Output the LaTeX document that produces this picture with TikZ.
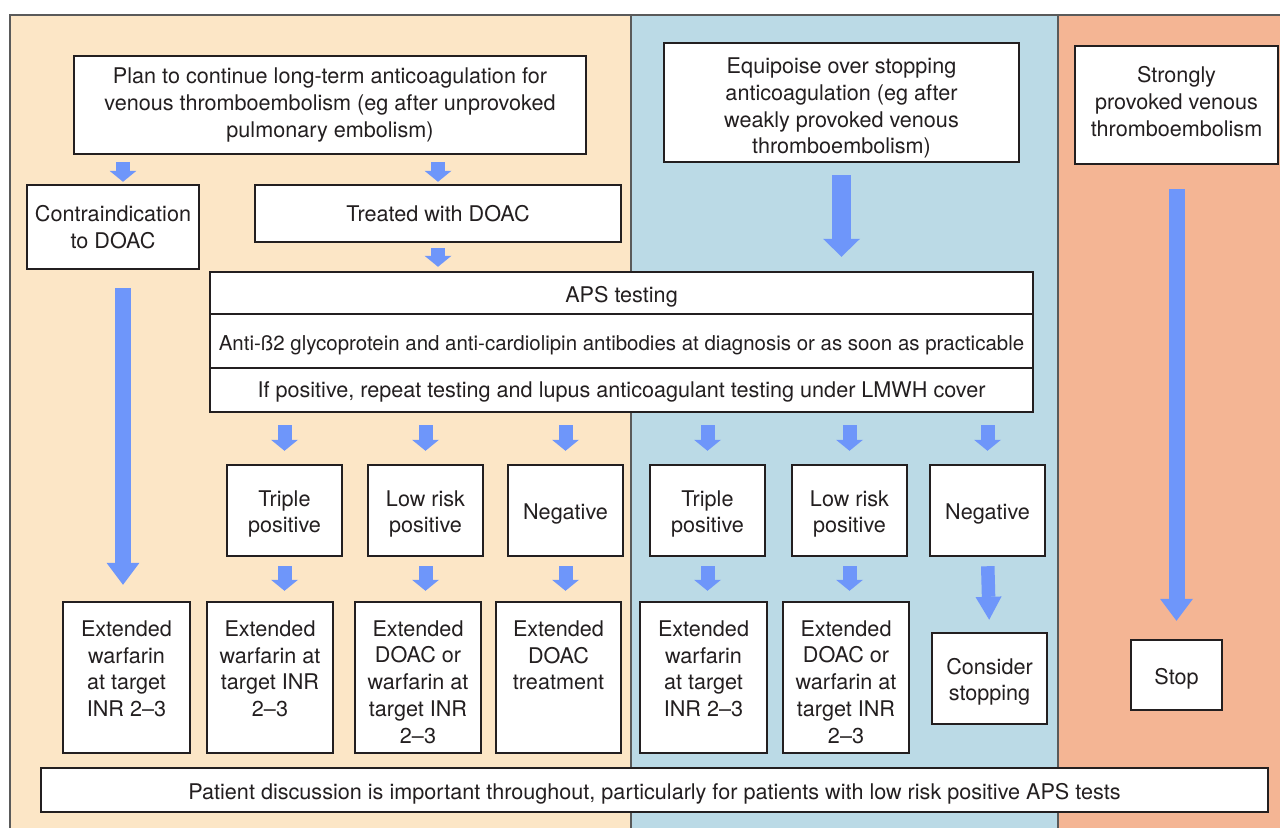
\documentclass[tikz,border=0pt]{standalone}
\usepackage{fontspec}
\setmainfont{TeX Gyre Heros}
\usetikzlibrary{arrows.meta}
\definecolor{peach}{RGB}{252,230,198}
\definecolor{paleblue}{RGB}{187,218,230}
\definecolor{salmon}{RGB}{244,181,148}
\definecolor{arrowblue}{RGB}{110,150,250}
\definecolor{ink}{RGB}{35,31,32}
\definecolor{rulegray}{RGB}{90,90,90}
% pushes the first line of a box down a little
\newcommand{\lift}[1][13pt]{\rule{0pt}{#1}}

\begin{document}
\begin{tikzpicture}[x=0.02cm, y=-0.02cm,
    box/.style={draw=ink, line width=1.4pt, fill=white, text=ink, align=center,
      inner sep=0pt, font=\fontsize{12.3}{15.2}\selectfont},
    smallarr/.style={arrowblue, line width=0.28cm,
      -{Triangle[length=0.22cm, width=0.54cm, line width=0pt]}},
    midarr/.style={arrowblue, line width=0.27cm,
      -{Triangle[length=0.46cm, width=0.52cm, line width=0pt]}},
    longarr/.style={arrowblue, line width=0.32cm,
      -{Triangle[length=0.44cm, width=0.66cm, line width=0pt]}},
    bigarr/.style={arrowblue, line width=0.38cm,
      -{Triangle[length=0.36cm, width=0.74cm, line width=0pt]}}]
        \useasboundingbox (0,0) rectangle (1280,828);
        % panels
        \fill[peach] (10,15) rectangle (631,828);
        \fill[paleblue] (631,15) rectangle (1058,828);
        \fill[salmon] (1058,15) rectangle (1280,828);
        \draw[rulegray, line width=0.8pt] (10,828) -- (10,15) -- (1280,15);
        \draw[rulegray, line width=0.8pt] (631,15) -- (631,828) (1058,15) -- (1058,828);
        % top boxes
        \node[box, minimum width=10.24cm, minimum height=1.96cm] (plan) at (330,105)
            {Plan to continue long-term anticoagulation for\\venous thromboembolism (eg after unprovoked\\pulmonary embolism)};
        \node[box, minimum width=7.1cm, minimum height=2.38cm] (equi) at (841.5,102.5)
            {\lift[15.5pt]Equipoise over stopping\\anticoagulation (eg after\\weakly provoked venous\\thromboembolism)};
        \node[box, minimum width=4.06cm, minimum height=2.36cm] (strong) at (1176.5,105)
            {Strongly\\provoked venous\\thromboembolism\rule[-4pt]{0pt}{0pt}};
        \node[box, minimum width=3.44cm, minimum height=1.68cm] (contra) at (113,227)
            {Contraindication\\to DOAC};
        \node[box, minimum width=7.32cm, minimum height=1.14cm] (treated) at (438,213.5)
            {Treated with DOAC};
        % APS testing
        \node[box, minimum width=16.46cm, minimum height=0.84cm] (aps1) at (621.5,293) {\lift APS testing};
        \node[box, minimum width=16.46cm, minimum height=1.08cm, font=\fontsize{11.65}{14.4}\selectfont] (aps2) at (621.5,341)
            {\lift Anti-ß2 glycoprotein and anti-cardiolipin antibodies at diagnosis or as soon as practicable};
        \node[box, minimum width=16.46cm, minimum height=0.88cm] (aps3) at (621.5,390)
            {\lift[11pt]If positive, repeat testing and lupus anticoagulant testing under LMWH cover};
        % results
        \node[box, minimum width=2.3cm, minimum height=1.82cm] (tp1) at (284.5,510.5) {\lift Triple\\positive};
        \node[box, minimum width=2.3cm, minimum height=1.82cm] (lr1) at (425.5,510.5) {\lift Low risk\\positive};
        \node[box, minimum width=2.3cm, minimum height=1.82cm] (neg1) at (565.5,510.5) {\lift Negative};
        \node[box, minimum width=2.3cm, minimum height=1.82cm] (tp2) at (707.5,510.5) {\lift Triple\\positive};
        \node[box, minimum width=2.3cm, minimum height=1.82cm] (lr2) at (849.5,510.5) {\lift Low risk\\positive};
        \node[box, minimum width=2.3cm, minimum height=1.82cm] (neg2) at (987.5,510.5) {\lift Negative};
        % outcomes
        \node[box, minimum width=2.54cm, minimum height=3.02cm] (extw0) at (126.5,677.5)
            {\lift[14pt]Extended\\warfarin\\at target\\INR 2–3\\~};
        \node[box, minimum width=2.52cm, minimum height=3.02cm] (extw1) at (270,677.5)
            {\lift[14pt]Extended\\warfarin at\\target INR\\2–3\\~};
        \node[box, minimum width=2.52cm, minimum height=3.02cm] (extdw1) at (418,677.5)
            {\lift[14pt]Extended\\DOAC or\\warfarin at\\target INR\\2–3};
        \node[box, minimum width=2.5cm, minimum height=3.02cm] (extd1) at (558.5,677.5)
            {\lift[14pt]Extended\\DOAC\\treatment\\~\\~};
        \node[box, minimum width=2.54cm, minimum height=3.02cm] (extw2) at (703.5,677.5)
            {\lift[14pt]Extended\\warfarin\\at target\\INR 2–3\\~};
        \node[box, minimum width=2.52cm, minimum height=3.02cm] (extdw2) at (846,677.5)
            {\lift[14pt]Extended\\DOAC or\\warfarin at\\target INR\\2–3};
        \node[box, minimum width=2.3cm, minimum height=1.82cm] (consider) at (989.5,678.5)
            {\lift Consider\\stopping};
        \node[box, minimum width=1.82cm, minimum height=1.4cm] (stop) at (1176.5,675) {\lift Stop};
        \node[box, minimum width=24.54cm, minimum height=0.88cm] (talk) at (654.5,790)
            {\lift Patient discussion is important throughout, particularly for patients with low risk positive APS tests};
        % arrows
        \coordinate (ca) at (123,0);
        \draw[smallarr, shorten <=0.14cm, shorten >=0.04cm] (plan.south -| ca) -- (contra.north -| ca);
        \draw[smallarr, shorten <=0.14cm, shorten >=0.04cm] (plan.south -| treated) -- (treated.north);
        \draw[smallarr, shorten <=0.1cm, shorten >=0.08cm] (treated.south) -- (aps1.north -| treated);
        \draw[longarr, shorten <=0.36cm, shorten >=0.32cm] (contra.south -| ca) -- (extw0.north -| ca);
        \draw[bigarr, shorten <=0.24cm, shorten >=0.28cm] (equi.south) -- (aps1.north -| equi);
        \draw[longarr, shorten <=0.48cm, shorten >=0.36cm] (strong.south) -- (stop.north);
        \foreach \m in {tp1,lr1,neg1,tp2,lr2,neg2}
            \draw[smallarr, shorten <=0.24cm, shorten >=0.26cm] (aps3.south -| \m) -- (\m.north);
        \foreach \m/\e in {tp1/extw1,lr1/extdw1,neg1/extd1,tp2/extw2,lr2/extdw2}
            \draw[smallarr, shorten <=0.18cm, shorten >=0.2cm] (\m.south) -- (\m.south |- \e.north);
        \draw[midarr, shorten <=0.18cm, shorten >=0.24cm] (neg2.south) -- (consider.north);
    \end{tikzpicture}
\end{document}
